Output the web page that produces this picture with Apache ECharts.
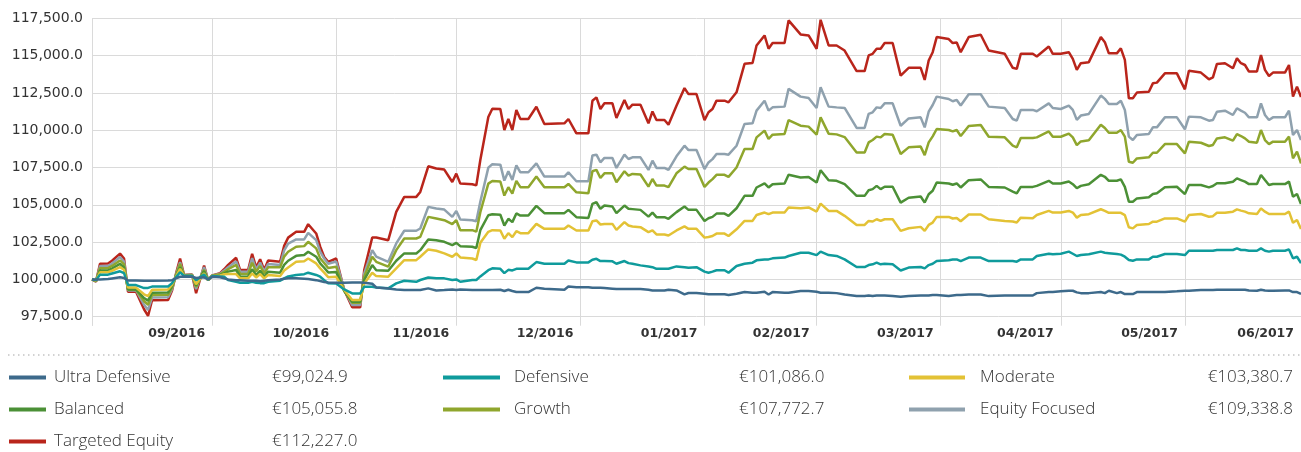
<!DOCTYPE html>
<html><head><meta charset="utf-8">
<script src="https://cdn.jsdelivr.net/npm/echarts@6/dist/echarts.min.js"></script>
<style>html,body{margin:0;padding:0;background:#fff}#c{width:1301px;height:452px}</style>
</head><body><div id="c"></div>
<script>
// Day offsets from 1 Sep 2016
const startYear = 2016, startMonth = 8, startDay = 1;
const dayOffsets = [0,1,2,4,5,7,8,9,11,13,
14,15,19,20,21,22,23,25,26,28,
29,30,32,33,34,36,37,39,40,41,
42,43,44,47,48,49,51,53,54,56,
57,58,59,61,63,65,67,68,70,71,
74,76,78,81,82,84,86,88,90,91,
92,95,96,97,99,100,102,103,104,105,
106,107,109,111,113,118,119,121,124,125,
126,127,128,130,131,133,134,135,137,139,
140,141,143,144,146,148,149,151,153,154,
155,156,158,159,161,163,165,166,168,169,
170,173,174,177,179,181,182,184,186,188,
191,193,194,195,196,197,198,200,202,204,
207,208,209,210,211,214,215,216,217,219,
222,224,228,230,231,232,235,236,239,240,
242,244,245,246,247,249,252,253,254,256,
257,258,259,260,261,264,265,266,268,271,
273,274,277,279,280,281,283,285,286,287,
288,289,291,292,293,294,295,298,299,300,
301,302];

const targetedEquity = [100000,99850,101050,101060,101250,101730,101400,99170,99170,98000,
97550,98600,98620,99250,100400,101390,100300,100330,99070,100930,
99950,100260,100420,100680,100970,101450,100630,100630,101720,100800,
101350,100630,101260,101190,102250,102800,103190,103190,103700,103080,
102190,101500,101180,101400,99290,98130,98130,100620,102810,102810,
102630,104530,105530,105530,105860,107580,107430,107360,106530,107090,
106420,106380,106300,108000,110880,111440,111420,110010,110750,110010,
111350,110750,110750,111570,110410,110460,110750,109790,109790,111970,
112200,111420,111800,111800,110820,112020,111420,111710,111710,110460,
111260,110680,110680,110370,111640,112820,112420,112420,110680,111200,
111420,111980,111980,111870,112540,114450,114500,115680,116350,115460,
115840,115840,117360,116420,116350,115460,117400,115680,115680,115340,
113960,113960,115010,115120,115460,115460,115840,115840,113660,114180,
114180,113370,114670,115230,116240,116110,115840,115880,115230,116240,
116400,115340,115120,114180,114110,115120,115120,114940,115610,115120,
115120,115230,114780,114040,114490,114560,116240,115900,115150,115150,
115490,114710,112140,112140,112520,112580,113140,113190,113810,113810,
112740,113990,113860,113410,113540,114440,114490,114150,114820,114490,
114370,113930,113930,115040,114040,113630,113860,113860,114370,112250,
112920,112227.0];

const equityFocused = [100000,99870,100890,100900,101070,101500,101200,99260,99260,98300,
97950,98780,98800,99350,100350,101160,100280,100310,99350,100820,
99950,100250,100380,100590,100810,101200,100520,100520,101420,100670,
101130,100520,101040,100970,101940,102400,102680,102680,103120,102630,
101860,101400,101050,101200,99330,98280,98280,100400,101960,101520,
101180,102410,103260,103260,103410,104860,104750,104680,104190,104590,
104010,103970,103900,105200,107490,107720,107690,106620,107250,106670,
107650,107180,107180,107780,106890,106890,107180,106580,106580,108300,
108360,107850,108140,108140,107470,108360,108070,108180,108180,107340,
107960,107470,107470,107340,108250,108960,108670,108670,107390,107840,
108060,108400,108400,108360,108960,110420,110460,111310,111980,111310,
111530,111580,112770,112250,112160,111490,112880,111580,111530,111490,
110150,110150,111090,111200,111530,111490,111800,111800,110300,110790,
110860,110190,111240,111690,112250,112090,111940,112030,111650,112410,
112410,111580,111490,110750,110640,111360,111360,111270,111800,111490,
111420,111650,111360,110690,110980,111090,112320,112100,111760,111760,
111980,111350,109570,109340,109680,109750,110190,110190,110860,110860,
110060,110910,110860,110640,110680,111240,111310,111020,111470,111310,
111170,110860,110860,111800,111020,110680,110860,110860,111310,109680,
110010,109338.8];

const growth = [100000,99890,100750,100760,100900,101270,101000,99300,99300,98550,
98300,98950,98970,99450,100300,101045,100270,100290,99500,100640,
99950,100240,100340,100500,100680,100970,100360,100360,101120,100520,
100900,100400,100810,100810,101530,101850,102190,102230,102520,102080,
101410,101100,100760,100850,99240,98440,98440,100180,101520,101180,
100850,101960,102740,102740,102850,104190,104080,103970,103700,103970,
103300,103300,103200,104500,106420,106600,106560,105620,106180,105750,
106600,106180,106180,106890,106180,106180,106400,105840,105780,107250,
107340,106800,107110,107110,106510,107250,106960,107070,107030,106220,
106730,106290,106290,106180,107110,107560,107400,107400,106200,106490,
106720,107010,107010,106870,107500,108740,108740,109520,109970,109410,
109700,109750,110680,110300,110240,109700,110860,109770,109720,109540,
108510,108510,109180,109340,109570,109520,109750,109700,108400,108850,
108900,108330,109180,109590,110080,110010,109920,110010,109610,110280,
110350,109560,109520,108960,108850,109480,109480,109520,109920,109560,
109560,109770,109520,109000,109250,109320,110370,110150,109830,109830,
110010,109570,107890,107820,108110,108180,108490,108490,109070,109070,
108450,109230,109160,108940,109010,109450,109520,109300,109740,109610,
109450,109230,109160,110010,109340,109070,109230,109230,109570,108110,
108560,107772.7];

const balanced = [100000,99910,100590,100600,100730,101045,100800,99330,99330,98750,
98580,99110,99120,99550,100250,100820,100260,100270,99580,100550,
99950,100230,100300,100400,100520,100630,100180,100180,100680,100290,
100580,100180,100520,100450,100970,101250,101580,101630,101850,101520,
101070,100780,100470,100500,99220,98510,98510,99960,100960,100620,
100580,101250,101740,101740,101960,102680,102630,102520,102300,102450,
102230,102190,102100,103300,104300,104370,104330,103610,104060,103840,
104420,104280,104280,104930,104440,104440,104660,104170,104120,105060,
105170,104730,104950,104880,104440,104950,104730,104710,104660,104210,
104480,104170,104170,104060,104510,104880,104660,104660,103920,104100,
104190,104410,104410,104260,104770,105600,105600,106160,106430,106160,
106380,106430,107010,106830,106870,106490,107320,106650,106610,106380,
105600,105600,105980,106050,106270,106050,106210,106210,105150,105470,
105560,105150,105710,105940,106500,106430,106340,106430,106160,106650,
106700,106200,106160,105890,105760,106200,106200,106270,106610,106430,
106430,106560,106380,106110,106270,106380,107010,106880,106610,106610,
106700,106200,105210,105210,105430,105500,105720,105770,106170,106210,
105720,106330,106330,106170,106260,106440,106440,106550,106770,106660,
106550,106390,106390,107000,106660,106330,106390,106390,106550,105540,
105720,105055.8];

const moderate = [100000,99930,100480,100480,100580,100820,100650,99450,99450,99000,
98880,99300,99320,99650,100200,100700,100250,100260,99680,100410,
99950,100230,100270,100340,100360,100360,100070,100070,100400,100130,
100360,100070,100290,100220,100590,100800,101180,101220,101400,101070,
100740,100450,100150,100170,99290,98620,98620,99730,100450,100220,
100180,100740,101290,101290,101520,102010,101920,101740,101520,101740,
101470,101400,101300,102450,103190,103300,103280,102720,103100,102830,
103230,103100,103100,103720,103390,103390,103610,103280,103280,103900,
103950,103680,103720,103720,103320,103840,103610,103550,103500,103170,
103280,103010,103010,102940,103280,103550,103390,103390,102800,102840,
102910,103070,103070,102910,103360,103920,103920,104320,104480,104370,
104480,104480,104820,104770,104820,104550,105080,104590,104590,104260,
103650,103650,103920,103880,104030,103920,104030,104030,103250,103430,
103520,103250,103650,103810,104190,104190,104080,104120,103900,104350,
104350,104030,103920,103880,103810,104140,104100,104320,104590,104480,
104480,104590,104480,104140,104320,104370,104700,104590,104460,104460,
104460,104310,103490,103420,103640,103710,103870,103870,104090,104090,
103870,104310,104380,104200,104240,104470,104470,104540,104690,104610,
104540,104430,104380,104760,104540,104380,104380,104380,104540,103800,
103980,103380.7];

const defensive = [100000,99950,100320,100320,100400,100545,100420,99620,99620,99420,
99430,99520,99530,99750,100150,100480,100240,100240,99950,100320,
99970,100220,100200,100180,99950,99840,99780,99780,99840,99780,
99750,99750,99840,99910,100070,100200,100300,100350,100450,100300,
100180,99950,99750,99730,99330,99060,99060,99510,99510,99460,
99400,99730,99910,99840,99960,100130,100070,100070,99960,100000,
99840,99960,99960,100200,100620,100740,100710,100420,100640,100600,
100710,100710,100710,101160,101050,101050,101270,101140,101140,101320,
101380,101230,101230,101210,101050,101230,101090,101050,100940,100870,
100820,100710,100710,100710,100870,100820,100780,100820,100520,100450,
100520,100610,100610,100450,100900,101050,101120,101280,101340,101340,
101410,101460,101570,101790,101790,101630,101860,101630,101570,101340,
100830,100830,100960,101010,101120,101010,101050,101010,100600,100790,
100830,100740,100960,101050,101230,101280,101340,101340,101230,101460,
101460,101230,101230,101230,101190,101340,101340,101570,101720,101680,
101720,101860,101720,101570,101630,101680,101860,101790,101760,101700,
101660,101520,101300,101250,101340,101340,101520,101520,101700,101700,
101630,101920,101920,101920,101920,101970,101970,101970,102080,101970,
101970,101920,101920,102080,101920,101860,101920,101920,102010,101410,
101520,101086.0];

const ultraDefensive = [100000,99990,100000,100020,100060,100140,100100,99930,99930,99910,
99910,99910,99920,99950,100080,100180,100200,100180,100090,100140,
100000,100180,100140,100070,100000,99950,99950,99910,99910,99910,
99870,99910,99950,100000,100050,100070,100070,100050,100020,99950,
99890,99830,99800,99780,99780,99800,99800,99780,99710,99460,
99390,99330,99290,99290,99290,99400,99260,99290,99330,99290,
99330,99290,99290,99290,99290,99290,99310,99220,99310,99220,
99150,99150,99150,99440,99370,99310,99530,99480,99480,99440,
99440,99440,99420,99380,99350,99350,99350,99350,99350,99310,
99260,99260,99260,99310,99260,99000,99090,99090,99040,99000,
99000,99000,99000,98960,99040,99150,99110,99110,99170,98990,
99150,99110,99110,99220,99220,99170,99110,99110,99080,98990,
98880,98880,98920,98880,98920,98920,98920,98880,98840,98880,
98920,98920,98920,98950,98950,98880,98920,98950,98950,98990,
98990,98880,98920,98920,98920,98920,98920,99080,99150,99150,
99200,99240,99240,99130,99080,99080,99150,99080,99240,99080,
99150,99020,99020,99020,99150,99150,99150,99150,99150,99200,
99240,99240,99290,99290,99290,99310,99310,99310,99310,99310,
99310,99260,99240,99310,99260,99240,99240,99260,99260,99150,
99150,99024.9];

const seriesNames = ['Ultra Defensive','Defensive','Moderate','Balanced','Growth','Equity Focused','Targeted Equity'];
const seriesValues = [ultraDefensive, defensive, moderate, balanced, growth, equityFocused, targetedEquity];
const seriesColors = ['#3d6a8b','#0f9b9c','#e3c235','#4b9036','#8fa62d','#8fa1ae','#b9251b'];
const finalValueLabels = ['€99,024.9','€101,086.0','€103,380.7','€105,055.8','€107,772.7','€109,338.8','€112,227.0'];
const xTickLabels = ['09/2016','10/2016','11/2016','12/2016','01/2017','02/2017','03/2017','04/2017','05/2017','06/2017'];
const yMin = 97500, yMax = 117500, yStep = 2500;

const times = dayOffsets.map(d => new Date(startYear, startMonth, startDay + d).getTime());
const valueByName = {};
seriesNames.forEach((n, i) => valueByName[n] = finalValueLabels[i]);

// draw order: riskier first, Ultra Defensive on top
const series = [];
for (let i = seriesNames.length - 1; i >= 0; i--) {
  series.push({
    name: seriesNames[i], type: 'line', showSymbol: false, symbol: 'none',
    color: seriesColors[i],
    lineStyle: { width: 2.5, color: seriesColors[i] },
    itemStyle: { color: seriesColors[i] },
    data: times.map((t, k) => [t, seriesValues[i][k]]),
    animation: false
  });
}

const legendFont = { fontFamily: 'Open Sans', fontWeight: 300, fontSize: 17, color: '#333', lineHeight: 20 };
function makeLegend(left, itemWidth, names, padLeft, nameWidth, valWidth, valAlign) {
  return {
    orient: 'vertical', left: left, top: 369, itemWidth: itemWidth, itemHeight: 4, itemGap: 15,
    icon: 'rect', selectedMode: false, data: names, padding: 0,
    formatter: n => '{n|' + n + '}{v|' + valueByName[n] + '}',
    textStyle: { rich: {
      n: Object.assign({ width: nameWidth, padding: [0, 0, 0, padLeft] }, legendFont),
      v: Object.assign(valWidth ? { width: valWidth, align: valAlign } : {}, legendFont)
    } }
  };
}

const chart = echarts.init(document.getElementById('c'), null, { renderer: 'canvas' });
chart.setOption({
  animation: false,
  backgroundColor: '#fff',
  grid: { left: 92, top: 18.3, width: 1210, height: 298.4 },
  xAxis: {
    type: 'time', min: times[0], max: times[times.length - 1],
    splitNumber: 10, minInterval: 28 * 864e5, maxInterval: 31 * 864e5,
    axisLine: { show: false },
    axisTick: { show: true, length: 9, lineStyle: { color: '#dadada' } },
    splitLine: { show: true, lineStyle: { color: '#dadada', width: 1 } },
    axisLabel: {
      showMinLabel: true, showMaxLabel: true, hideOverlap: false,
      align: 'right', padding: [0, 7, 0, 0], margin: 11,
      color: '#333', fontFamily: 'DejaVu Sans', fontWeight: 'bold', fontSize: 12.5,
      formatter: function (value) {
        const dt = new Date(value);
        let y = dt.getFullYear(), m = dt.getMonth();
        if (dt.getDate() === 1) { m -= 1; if (m < 0) { m = 11; y -= 1; } }
        const idx = (y - 2016) * 12 + m - 8;
        return xTickLabels[idx] || '';
      }
    }
  },
  yAxis: {
    type: 'value', min: yMin, max: yMax, interval: yStep,
    axisLine: { show: false }, axisTick: { show: false },
    splitLine: { lineStyle: { color: '#dadada', width: 1 } },
    axisLabel: {
      margin: 9, color: '#333', fontFamily: 'DejaVu Sans', fontSize: 14,
      formatter: v => v.toLocaleString('en-US', { minimumFractionDigits: 1, maximumFractionDigits: 1 })
    }
  },
  legend: [
    makeLegend(9, 37, ['Ultra Defensive', 'Balanced', 'Targeted Equity'], 3, 218, 0, 'left'),
    makeLegend(443, 57, ['Defensive', 'Growth'], 9, 225, 0, 'left'),
    makeLegend(909, 56, ['Moderate', 'Equity Focused'], 10, 190, 123, 'right')
  ],
  graphic: [{
    type: 'line', shape: { x1: 8, y1: 355, x2: 1301, y2: 355 },
    style: { stroke: '#c4c4c4', lineWidth: 1.5, lineDash: [1.5, 3.5] }, silent: true
  }],
  series: series
});
</script>
</body></html>
